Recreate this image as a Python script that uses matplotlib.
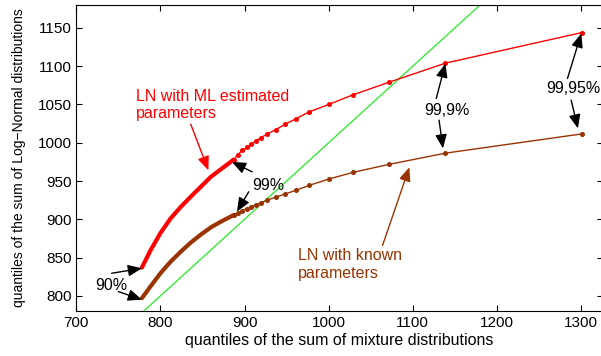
import matplotlib
matplotlib.use('Agg')
import matplotlib.pyplot as plt

plt.rcParams['font.family'] = ['Liberation Sans', 'DejaVu Sans']

# quantiles 90% .. 99% (dense part)
x_dense = [778, 788, 800, 812, 824, 836, 848, 860, 872, 880, 887]
ml_dense = [837, 859, 882, 901, 916, 929.5, 942.5, 955.5, 965.5, 972, 978]
known_dense = [797, 812, 829.5, 844.5, 857.5, 869.5, 880, 889.5, 897, 901.5, 905.5]

# quantiles above 99% (single points)
x_tail = [887.3, 892, 897.3, 902.8, 908, 913.1, 919.1, 927.1, 937, 948.1,
          961.3, 977.2, 1000, 1028.6, 1071.6, 1138.8, 1301.2]
ml_tail = [978, 984.5, 990, 994, 998, 1002, 1006.5, 1011.5, 1017, 1024,
           1031.5, 1040.5, 1050, 1062.5, 1079, 1104, 1144]
known_tail = [905.5, 908.5, 911, 914, 916.5, 918.5, 921.5, 925, 929, 933,
              938, 944.4, 952.5, 961.2, 971.7, 986.4, 1011.6]

red = '#ff0000'
brown = '#993300'

fig = plt.figure(figsize=(6.01, 3.56), dpi=100)
ax = fig.add_axes([0.127, 0.126, 0.876, 0.860])

ax.plot([700, 1326], [700, 1326], color='#22ee22', lw=0.9)
ax.plot(x_dense, ml_dense, color=red, lw=3.0, solid_capstyle='round')
ax.plot(x_dense, known_dense, color=brown, lw=3.0, solid_capstyle='round')
ax.plot(x_tail, ml_tail, color=red, lw=1.0, marker='o', ms=2.6)
ax.plot(x_tail, known_tail, color=brown, lw=1.0, marker='o', ms=2.6)

ax.set_xlim(700, 1326)
ax.set_ylim(780, 1180)
ax.set_xticks([700, 800, 900, 1000, 1100, 1200, 1300])
ax.set_yticks([800, 850, 900, 950, 1000, 1050, 1100, 1150])
ax.tick_params(direction='in', length=4, top=True, right=True, labelsize=11)
ax.set_xlabel('quantiles of the sum of mixture distributions', fontsize=11.5, labelpad=2)
ax.set_ylabel('quantiles of the sum of Log\u2212Normal distributions', fontsize=10, labelpad=8)

hd = '-|>,head_length=0.6,head_width=0.25'
blk = dict(arrowstyle=hd, color='black', lw=1.0, mutation_scale=14,
           shrinkA=0, shrinkB=0)

# labels of the two curves
ax.annotate('LN with ML estimated\nparameters', xy=(857, 964), xytext=(771, 1049),
            color=red, fontsize=11.5, va='center', ha='left',
            arrowprops=dict(arrowstyle=hd, color=red, lw=1.0, mutation_scale=14,
                            shrinkA=0, shrinkB=0, relpos=(0.35, 0.0)))
ax.annotate('LN with known\nparameters', xy=(1096, 968), xytext=(964, 841),
            color=brown, fontsize=11.5, va='center', ha='left',
            arrowprops=dict(arrowstyle=hd, color=brown, lw=1.0, mutation_scale=14,
                            shrinkA=0, shrinkB=0, relpos=(0.8, 1.0)))

# percentile markers
ax.text(722, 814, '90%', fontsize=11.5, va='center', ha='left')
ax.annotate('', xy=(778, 836), xytext=(742, 829.5), arrowprops=blk)
ax.annotate('', xy=(778, 795), xytext=(750, 805.5), arrowprops=blk)

ax.text(909, 944.6, '99%', fontsize=11.5, va='center', ha='left')
ax.annotate('', xy=(885, 975), xytext=(909, 962), arrowprops=blk)
ax.annotate('', xy=(891, 910), xytext=(905, 936), arrowprops=blk)

ax.text(1141, 1042.6, '99,9%', fontsize=11.5, va='center', ha='center')
ax.annotate('', xy=(1138.8, 1103.5), xytext=(1128, 1058), arrowprops=blk)
ax.annotate('', xy=(1136, 992.6), xytext=(1131.3, 1029.5), arrowprops=blk)

ax.text(1291, 1071, '99,95%', fontsize=11.5, va='center', ha='center')
ax.annotate('', xy=(1300.4, 1142.7), xytext=(1284, 1084), arrowprops=blk)
ax.annotate('', xy=(1296.4, 1018.7), xytext=(1288.4, 1055.6), arrowprops=blk)

fig.savefig('out.png', dpi=100)
